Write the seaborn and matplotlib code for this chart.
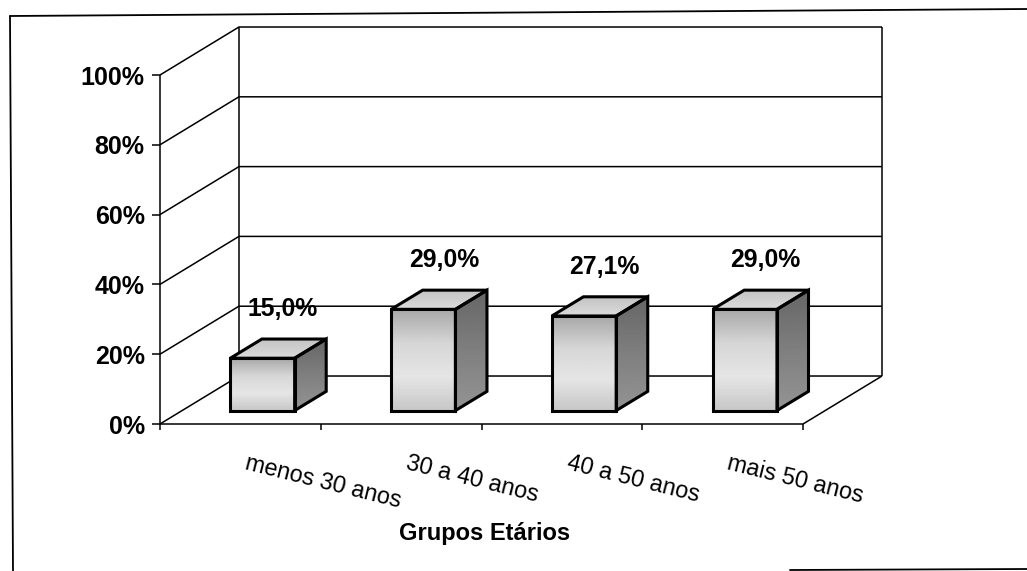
import matplotlib
matplotlib.use("Agg")
import matplotlib.pyplot as plt
from matplotlib.patches import Polygon
from matplotlib.lines import Line2D
import numpy as np
import pandas as pd
import seaborn as sns

sns.set_style("white")
plt.rcParams['font.family'] = ['Liberation Sans', 'DejaVu Sans']
plt.rcParams['text.color'] = 'black'
plt.rcParams['xtick.color'] = 'black'
plt.rcParams['ytick.color'] = 'black'
plt.rcParams['axes.labelcolor'] = 'black'

# data
grupos = ["menos 30 anos", "30 a 40 anos", "40 a 50 anos", "mais 50 anos"]
valores = [15.0, 29.0, 27.1, 29.0]
y_ticks = [0, 20, 40, 60, 80, 100]
x_title = "Grupos Etários"

# fake 3d: floor depth in data units, where the bars sit in that depth
DX, DY = 0.491, 13.75
T_FRONT, T_BAR = 0.28, 0.40
BAR_W = 0.4

fig = plt.figure(figsize=(10.27, 5.71), dpi=100)
ax = fig.add_axes([160/1027, (571-424)/571, 722/1027, 401/571])
ax.patch.set_visible(False)

df = pd.DataFrame({"grupo": grupos, "valor": valores})
sns.barplot(data=df, x="grupo", y="valor", width=BAR_W, color="#cccccc",
            errorbar=None, ax=ax)


def shade(artist, ext, stops):
    grad = np.interp(np.linspace(0, 1, 64), np.linspace(0, 1, len(stops)), stops)[:, None]
    im = ax.imshow(grad, cmap='gray', vmin=0, vmax=1, extent=ext, aspect='auto',
                   origin='upper', interpolation='bilinear', zorder=2)
    im.set_clip_path(artist)


ox, oy = T_FRONT*DX, T_FRONT*DY
bx, by = T_BAR*DX, T_BAR*DY
edge = dict(fc='none', ec='black', lw=2.2, zorder=3, joinstyle='miter')

for p, v in zip(list(ax.patches), valores):
    p.set_x(p.get_x() + ox)
    p.set_y(oy)
    x0, x1 = p.get_x(), p.get_x() + p.get_width()
    y0, y1 = oy, oy + p.get_height()
    p.set_facecolor('none'); p.set_edgecolor('black'); p.set_linewidth(2.2); p.set_zorder(3)
    top = Polygon([(x0, y1), (x1, y1), (x1+bx, y1+by), (x0+bx, y1+by)], closed=True, **edge)
    side = Polygon([(x1, y0), (x1+bx, y0+by), (x1+bx, y1+by), (x1, y1)], closed=True, **edge)
    ax.add_patch(top)
    ax.add_patch(side)
    shade(p, (x0, x1, y0, y1), [0.66, 0.84, 0.90, 0.78])
    shade(top, (x0, x1+bx, y1, y1+by), [0.76, 0.86])
    shade(side, (x1, x1+bx, y0, y1+by), [0.40, 0.50, 0.58])
    ax.text((x0 + x1 + bx)/2 + 0.03, y1 + by + 8.5, f"{v:.1f}%".replace(".", ","),
            ha='center', va='center', fontsize=17.8, fontweight='bold')

# walls and floor
n = len(grupos)
lc = dict(color='black', lw=1.1, zorder=1, clip_on=False, solid_capstyle='butt')
for yv in y_ticks:
    ax.plot([-0.5, -0.5+DX, n-0.5+DX], [yv, yv+DY, yv+DY], **lc)
ax.plot([-0.5+DX]*2, [DY, y_ticks[-1]+DY], **lc)
ax.plot([n-0.5+DX]*2, [DY, y_ticks[-1]+DY], **lc)
ax.plot([-0.5, -0.5], [0, y_ticks[-1]], **lc)
ax.plot([-0.5, n-0.5, n-0.5+DX], [0, 0, DY], **lc)

for s in ax.spines.values():
    s.set_visible(False)
ax.set_xlim(-0.5, n-0.5+DX)
ax.set_ylim(0, y_ticks[-1]+DY+1.15)

ax.set_yticks(y_ticks, labels=[f"{t}%" for t in y_ticks], fontweight='bold', fontsize=18)
ax.tick_params(axis='y', left=True, length=6, width=1.1, color='black', pad=5)
ax.set_xticks(np.arange(n) + 0.05, labels=grupos, rotation=-14, ha='left',
              rotation_mode='anchor', fontsize=16.8)
ax.set_xticks(np.arange(n+1) - 0.5, minor=True)
ax.tick_params(axis='x', which='major', bottom=False, length=0, pad=20)
ax.tick_params(axis='x', which='minor', bottom=True, length=4.5, width=1.1,
               color='black', direction='out')
ax.set_ylabel("")
ax.set_xlabel(x_title, fontsize=17, fontweight='bold')
ax.xaxis.set_label_coords(0.449, -0.245)

# scanned page frame
fl = dict(color='black', lw=1.3, transform=fig.transFigure)
fig.add_artist(Line2D([10/1027, 1], [1-16/571, 1-9/571], **fl))
fig.add_artist(Line2D([10/1027, 13/1027], [1-16/571, 0], **fl))
fig.add_artist(Line2D([790/1027, 1], [1-570/571, 1-569/571], **fl))

fig.savefig("out.png", dpi=100, facecolor='white')
